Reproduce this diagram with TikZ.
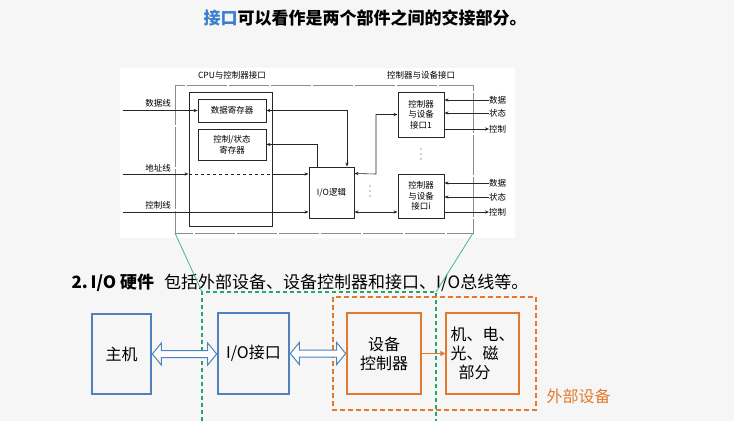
\documentclass[tikz,border=0pt]{standalone}
\usepackage{fontspec}
\setmainfont{Noto Sans CJK SC}
\usetikzlibrary{arrows.meta,positioning,calc}
\definecolor{slidebg}{HTML}{F6F6F6}
\definecolor{keyblue}{HTML}{3B7DD0}
\definecolor{boxblue}{HTML}{4F81BD}
\definecolor{boxorange}{HTML}{E2792F}
\definecolor{linegreen}{HTML}{3DBB8C}
\definecolor{dashgreen}{HTML}{22A86A}
\tikzset{
  reg/.style={draw=black!85, line width=0.7pt, inner sep=0pt, align=center, font=\fontsize{8.5}{10.5}\selectfont},
  lbl/.style={inner sep=0pt, font=\fontsize{8.5}{10}\selectfont},
  wire/.style={draw=black!85, line width=0.6pt},
  tip/.style={-{Stealth[length=4pt,width=3.2pt]}},
  bothtips/.style={{Stealth[length=4pt,width=3.2pt]}-{Stealth[length=4pt,width=3.2pt]}},
  bigbox/.style={draw, line width=1.3pt, inner sep=0pt, align=center, font=\fontsize{16}{19}\selectfont},
  % hollow double arrow between two boxes
  hollow/.style={draw=boxblue, fill=white, line width=1pt, line join=miter,
    to path={let \p1=(\tikztostart), \p2=(\tikztotarget) in
      (\x1,\y1) -- (\x1+9pt,\y1+11pt) -- (\x1+9pt,\y1+3.5pt) -- (\x2-9pt,\y1+3.5pt)
      -- (\x2-9pt,\y1+11pt) -- (\x2,\y1) -- (\x2-9pt,\y1-11pt) -- (\x2-9pt,\y1-3.5pt)
      -- (\x1+9pt,\y1-3.5pt) -- (\x1+9pt,\y1-11pt) -- cycle}},
  dot/.style={fill=black!80, circle, inner sep=0pt, minimum size=1.3pt},
}
\begin{document}
\begin{tikzpicture}[x=1pt,y=-1pt]
\useasboundingbox (0,0) rectangle (734,421);
\fill[slidebg] (0,0) rectangle (734,421);
% title
\node[font=\fontsize{17}{20}\selectfont\bfseries] (title) at (365,18) {\textcolor{keyblue}{接口}可以看作是两个部件之间的交接部分。};

% upper picture
\fill[white] (120,68) rectangle (515,238);
\draw[black!45, line width=0.8pt, dash pattern=on 40pt off 2pt] (175,85) coordinate (outnw) rectangle (473,233) coordinate (outse);
\coordinate (outsw) at (175,233);
\node[lbl] (cpulbl) at (232,75) {CPU与控制器接口};
\node[lbl] (devlbl) at (421,75) {控制器与设备接口};

\node[reg, line width=1pt, minimum width=83pt, minimum height=134pt] (cpubox) at (230.5,159) {};
\node[reg, minimum width=68pt, minimum height=23pt] (datareg) at (232,110.5) {数据寄存器};
\node[reg, minimum width=68pt, minimum height=31pt] (ctrlreg) at (232,144.5) {控制/状态\\寄存器};
\node[reg, line width=1pt, minimum width=45pt, minimum height=51pt] (iologic) at (331.5,192.5) {I/O逻辑};
\node[reg, line width=1pt, minimum width=46pt, minimum height=45pt] (dev1) at (421,114.5) {控制器\\与设备\\接口1};
\node[reg, line width=1pt, minimum width=46pt, minimum height=44pt] (devi) at (421,196) {控制器\\与设备\\接口i};
% vertical dots
\foreach \dy in {-5,0,5} {
  \node[dot] at (421,154+\dy) {};
  \node[dot] at (370,191+\dy) {};
}

% CPU side lines
\node[lbl] (datlbl) at (158,103) {数据线};
\node[lbl] (adrlbl) at (158,168) {地址线};
\node[lbl] (ctllbl) at (158,205) {控制线};
\coordinate (datin) at (123,110.5);
\coordinate (adrin) at (123,174);
\coordinate (ctlin) at (123,212);
\draw[wire, tip] (datin) -- (datareg.west);
\draw[wire, tip] (adrin) -- (cpubox.west |- adrin);
\draw[wire, dashed] (cpubox.west |- adrin) -- (cpubox.east |- adrin);
\draw[wire, tip] (cpubox.east |- adrin) -- (iologic.west |- adrin);
\draw[wire, tip] (ctlin) -- (iologic.west |- ctlin);

% registers to I/O logic
\draw[wire, bothtips] (datareg.east) -| ([xshift=15.5pt]iologic.north);
\draw[wire, tip] ([xshift=-14.5pt]iologic.north) |- (ctrlreg.east);

% I/O logic to device interfaces
\draw[wire, bothtips] (iologic.east |- devi.north) -- (376,174) |- (dev1.west);
\draw[wire, bothtips] (iologic.east |- ctlin) -- (devi.west |- ctlin);

% device side lines
\node[lbl, anchor=west] (d1dat) at (489,100) {数据};
\node[lbl, anchor=west] (d1sta) at (489,113) {状态};
\node[lbl, anchor=west] (d1ctl) at (489,129) {控制};
\node[lbl, anchor=west] (didat) at (489,183) {数据};
\node[lbl, anchor=west] (dista) at (489,197) {状态};
\node[lbl, anchor=west] (dictl) at (489,212) {控制};
\draw[wire, tip] (d1dat.west) -- (dev1.east |- d1dat);
\draw[wire, tip] (d1sta.west) -- (dev1.east |- d1sta);
\draw[wire, tip] (dev1.east |- d1ctl) -- (d1ctl.west);
\draw[wire, tip] (didat.west) -- (devi.east |- didat);
\draw[wire, tip] (dista.west) -- (devi.east |- dista);
\draw[wire, tip] (devi.east |- dictl) -- (dictl.west);

% lower part
\node[anchor=west, font=\fontsize{17}{20}\selectfont] (hwline) at (68,283) {\textbf{2.\,I/O 硬件}\hspace{10pt}包括外部设备、设备控制器和接口、I/O总线等。};

% green zoom lines
\draw[dashgreen, line width=1.3pt, dash pattern=on 4pt off 3pt] (202,421) -- (202,292) -- (436,292) -- (436,421);
\draw[linegreen, line width=0.8pt] (outsw) -- (202,292);
\draw[linegreen, line width=0.8pt] (473,233) -- (436,292);

% external device frame
\draw[boxorange, line width=1.3pt, dash pattern=on 5pt off 3pt] (333,297) rectangle (536,410);
\node[anchor=west, text=boxorange, font=\fontsize{16}{19}\selectfont] (extlbl) at (543,396) {外部设备};

\node[bigbox, draw=boxblue, minimum width=59pt, minimum height=80pt] (host) at (121.5,354) {主机};
\node[bigbox, draw=boxblue, minimum width=71pt, minimum height=81pt] (ioif) at (253.5,353.5) {I/O接口};
\node[bigbox, draw=boxorange, minimum width=74pt, minimum height=81pt] (devctl) at (384,353.5) {设备\\控制器};
\node[bigbox, draw=boxorange, minimum width=73pt, minimum height=81pt, align=left] (mech) at (482.5,353.5) {机、电、\\光、磁\\\hspace{8pt}部分};

\draw[hollow] ([xshift=0.7pt]host.east) to ([xshift=-0.7pt]ioif.west);
\draw[hollow] ([xshift=0.7pt]ioif.east) to ([xshift=-0.7pt]devctl.west);
\draw[boxorange, line width=1.2pt, -{Triangle[length=5pt,width=5pt]}] (devctl.east) -- (mech.west);
\end{tikzpicture}
\end{document}
